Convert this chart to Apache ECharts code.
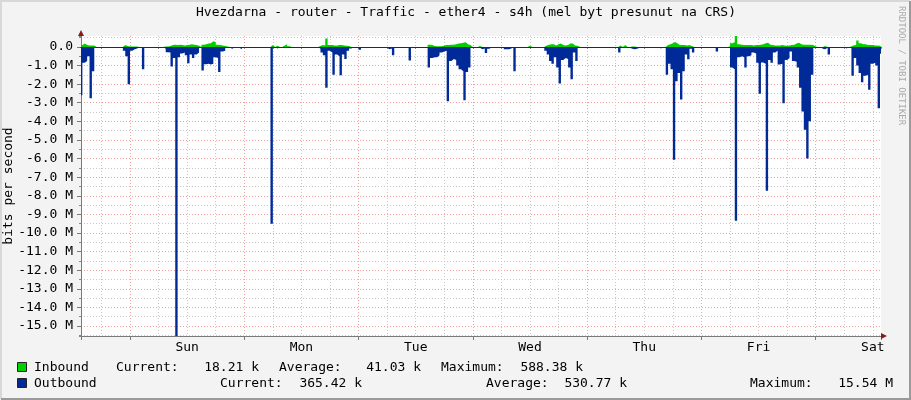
<!DOCTYPE html>
<html><head><meta charset="utf-8">
<script src="https://cdn.jsdelivr.net/npm/echarts@6/dist/echarts.min.js"></script>
<style>html,body{margin:0;padding:0;background:#F3F3F3}#c{width:911px;height:400px}</style>
</head><body><div id="c"></div>
<script>
// ---------- texts ----------
const titleText = 'Hvezdarna - router - Traffic - ether4 - s4h (mel byt presunut na CRS)';
const yAxisTitle = 'bits per second';
const dayLabels = ['Sun', 'Mon', 'Tue', 'Wed', 'Thu', 'Fri', 'Sat'];
const seriesNames = ['Inbound', 'Outbound'];
const statLabels = ['Current:', 'Average:', 'Maximum:'];
const inboundStats = ['18.21 k', '41.03 k', '588.38 k'];
const outboundStats = ['365.42 k', '530.77 k', '15.54 M'];
const watermark = 'RRDTOOL / TOBI OETIKER';

// ---------- time frame (hours after Saturday 00:00) ----------
const viewStartHour = 13.71;
const viewSpanHours = 168;
const slotStartHour = 13.5;   // first 30-min RRD slot
const slotHours = 0.5;

// ---------- values, Mbit/s (outbound drawn negative) ----------
const inbound = [
0.1,0.18,0.1,0.08,0.08,0.08,0,0,0,0,
0,0,0,0,0,0,0,0,0.1,0.05,
0.03,0.03,0.03,0.03,0,0,0,0,0,0,
0,0,0,0,0,0.03,0.03,0.05,0.1,0.12,
0.1,0.12,0.1,0.08,0.1,0.12,0.14,0.12,0.1,0.06,
0,0.12,0.15,0.18,0.2,0.3,0.25,0.12,0.1,0.08,
0.05,0.03,0,0,0,0,0,0,0,0,
0,0,0,0,0,0,0,0,0,0,
0.1,0,0.06,0,0,0.08,0.15,0.04,0,0,
0,0,0,0,0,0,0,0,0,0,
0.05,0.1,0.08,0.45,0.1,0.1,0.08,0.08,0.1,0.1,
0.08,0.06,0.05,0,0,0,0,0,0,0,
0,0,0,0,0,0,0,0,0,0,
0,0,0,0,0,0,0,0,0,0,
0,0,0,0,0,0,0.12,0.1,0.05,0.04,
0.04,0.04,0.08,0.1,0.1,0.12,0.12,0.14,0.18,0.2,
0.22,0.25,0.15,0.1,0,0,0,0.05,0,0,
0,0,0,0,0,0,0,0,0,0,
0,0,0,0,0,0,0,0,0.06,0,
0,0,0,0,0,0.08,0.12,0.15,0.14,0.08,
0.15,0.18,0.1,0.08,0.1,0.18,0.18,0.08,0.06,0,
0,0,0,0,0,0,0,0,0,0,
0,0,0,0,0,0,0.08,0,0.1,0,
0,0.03,0.03,0,0,0,0,0,0,0,
0,0,0,0,0,0,0.1,0.15,0.2,0.27,
0.18,0.1,0.1,0.1,0.08,0.1,0.05,0,0,0,
0,0,0,0,0,0,0,0,0,0,
0,0,0.03,0.2,0.25,0.588,0.15,0.12,0.1,0.1,
0.1,0.1,0.08,0.1,0.1,0.12,0.15,0.2,0.22,0.12,
0.1,0.08,0.08,0.08,0.1,0.08,0.06,0.08,0.1,0.12,
0.18,0.22,0.15,0.12,0.12,0.12,0.12,0.1,0.02,0,
0,0,0.05,0,0,0,0,0,0,0,
0,0,0,0.03,0.09,0.1,0.34,0.2,0.14,0.14,
0.1,0.1,0.1,0.08,0.08,0.06,0.018
];
const outbound = [
-2.6,-0.85,-0.75,-0.5,-2.76,-1.3,0,0,0,0,
0,0,0,0,0,0,0,0,-0.2,-0.5,
-2.0,-0.2,-0.12,-0.08,0,0,-1.2,0,0,0,
0,0,0,0,0,-0.1,-0.28,-0.3,-1.05,-0.6,
-15.54,-0.55,-0.35,-0.3,-0.45,-0.88,-0.4,-0.6,-0.4,-0.3,
0,-1.26,-0.93,-0.9,-0.95,-0.9,-0.55,-0.6,-1.35,-0.25,
-0.2,-0.05,-0.05,-0.1,0,0,-0.05,-0.12,0,0,
0,0,0,0,0,0,0,0,0,0,
-9.5,0,-0.08,0,0,0,0,0,-0.05,0,
0,0,0,0,0,0,0,0,0,0,
-0.1,-0.3,-0.45,-2.2,-0.2,-0.3,-1.5,-0.4,-0.5,-1.52,
-0.4,-0.65,-0.2,-0.08,0,0,0,-0.15,0,0,
0,0,0,0,0,0,0,0,-0.05,-0.12,
-0.08,-0.45,0,0,0,0,0,0,-0.73,0,
0,0,0,0,0,0,-1.1,-0.6,-0.55,-0.55,
-0.45,-0.3,-0.25,-0.2,-2.92,-0.75,-0.65,-0.7,-1.0,-1.2,
-1.3,-2.87,-1.35,-1.1,0,0,0,-0.05,-0.12,-0.08,
-0.33,-0.1,0,0,0,0,0,0,-0.12,-0.12,
-0.1,0,-1.3,0,0,0,0,0,0,0,
0,0,0,0,0,-0.2,-0.4,-0.75,-0.9,-0.55,
-1.1,-1.96,-0.7,-0.6,-0.65,-1.1,-1.74,-0.3,-0.75,0,
0,0,0,0,0,0,0,0,0,0,
0,0,0,0,0,0,-0.3,0,-0.05,0,
-0.05,-0.1,-0.12,-0.1,-0.05,0,0,0,0,0,
0,0,0,-0.08,0,-0.05,-1.5,-0.9,-1.2,-6.07,
-1.85,-1.4,-2.83,-1.3,-0.4,-0.66,-0.1,-0.3,0,0,
0,0,0,0,0,0,0,-0.25,0,0,
0,0,-0.05,-1.1,-1.2,-9.35,-0.55,-0.5,-0.55,-1.1,
-0.5,-0.45,-0.3,-0.35,-0.85,-2.51,-0.84,-0.9,-7.73,-0.7,
-0.85,-0.3,-0.2,-0.95,-0.9,-3.03,-0.7,-0.6,-0.25,-0.75,
-0.8,-1.1,-2.2,-3.47,-4.45,-6.0,-4.0,-1.5,0,0,
0,-0.1,-0.12,-0.05,-0.4,0,0,0,0,0,
0,-0.08,0,-0.05,-1.55,-0.6,-1.0,-1.4,-1.9,-1.55,
-1.5,-2.3,-0.9,-0.85,-1.0,-3.3,-0.365
];
const yMin = -15.54;   // = -(outbound maximum)
const yMax = 0.58838;  // = inbound maximum

// ---------- helpers ----------
const colIn = '#00CF00', colOut = '#002A97';
const FONT = '"DejaVu Sans Mono", monospace';
function toSeries(vals) {
  const pts = vals.map((v, i) => [(slotStartHour + i * slotHours) / 24, v]);
  const n = vals.length;
  pts.push([(slotStartHour + n * slotHours) / 24, vals[n - 1]]); // close last step
  return pts;
}
const dayMin = viewStartHour / 24, dayMax = (viewStartHour + viewSpanHours) / 24;
const dotted = [1, 2];

const chart = echarts.init(document.getElementById('c'), null, {renderer: 'canvas'});

const legendRows = [
  {name: seriesNames[0], color: colIn, stats: inboundStats, y: 368, lx: [116, 279, 441], vx: [259, 421, 583]},
  {name: seriesNames[1], color: colOut, stats: outboundStats, y: 384, lx: [220, 486, 750], vx: [362, 627, 893]}
];
const graphics = [
  {type: 'text', x: 466, y: 13, style: {text: titleText, font: '13px ' + FONT, fill: '#000', align: 'center', verticalAlign: 'middle'}},
  {type: 'text', x: 901, y: 6, rotation: -Math.PI / 2, style: {text: watermark, font: '9px ' + FONT, fill: '#aaaaaa', align: 'left', verticalAlign: 'middle'}},
  // frame
  {type: 'polyline', shape: {points: [[1, 399], [1, 1], [910, 1]]}, style: {stroke: '#D8D8D8', lineWidth: 2, fill: null}},
  {type: 'polyline', shape: {points: [[1, 399], [910, 399], [910, 1]]}, style: {stroke: '#9A9A9A', lineWidth: 2, fill: null}}
];
legendRows.forEach(r => {
  graphics.push({type: 'rect', shape: {x: 17.5, y: r.y - 5.5, width: 9, height: 9}, style: {fill: r.color, stroke: '#222', lineWidth: 1}});
  graphics.push({type: 'text', x: 34, y: r.y, style: {text: r.name, font: '13px ' + FONT, fill: '#000', verticalAlign: 'middle'}});
  r.stats.forEach((s, k) => {
    graphics.push({type: 'text', x: r.lx[k], y: r.y, style: {text: statLabels[k], font: '13px ' + FONT, fill: '#000', verticalAlign: 'middle'}});
    graphics.push({type: 'text', x: r.vx[k], y: r.y, style: {text: s, font: '13px ' + FONT, fill: '#000', align: 'right', verticalAlign: 'middle'}});
  });
});

const option = {
  animation: false,
  backgroundColor: '#F3F3F3',
  textStyle: {fontFamily: FONT},
  grid: {left: 81, right: 30, top: 36, bottom: 64, show: true, backgroundColor: '#FFFFFF', borderWidth: 0,
         containLabel: false, outerBoundsMode: 'none'},
  xAxis: [
    { // minor grid: every 6 hours
      type: 'value', position: 'bottom', min: viewStartHour / 6, max: (viewStartHour + viewSpanHours) / 6, splitNumber: 28,
      axisLine: {show: false}, axisLabel: {show: false},
      axisTick: {show: true, length: 2, lineStyle: {color: '#888'}},
      splitLine: {show: true, showMinLine: false, showMaxLine: false, lineStyle: {color: '#C8C8C8', type: dotted, width: 1}}
    },
    { // major grid: midnight; carries the data
      type: 'value', position: 'bottom', min: dayMin, max: dayMax, splitNumber: 7,
      axisLine: {show: true, onZero: false, lineStyle: {color: '#7A7A7A', width: 1}},
      axisLabel: {show: false},
      axisTick: {show: true, length: 4, lineStyle: {color: '#7A7A7A'}},
      splitLine: {show: true, showMinLine: false, showMaxLine: false, lineStyle: {color: '#F2A0A0', type: dotted, width: 1}}
    },
    { // day labels at noon
      type: 'value', position: 'bottom', min: dayMin - 0.5, max: dayMax - 0.5, splitNumber: 7,
      axisLine: {show: true, onZero: false, symbol: ['none', 'triangle'], symbolSize: [6, 6], symbolOffset: [0, 3], lineStyle: {color: '#8B1A1A', width: 0}},
      axisTick: {show: false}, splitLine: {show: false},
      axisLabel: {show: true, showMinLabel: false, showMaxLabel: false, margin: 5, color: '#000', fontSize: 13, fontFamily: FONT,
        formatter: v => dayLabels[Math.round(v) - 1] || ''}
    },
    { // zero line drawn above the areas
      type: 'value', position: 'bottom', min: dayMin, max: dayMax, z: 10,
      axisLine: {show: true, onZero: true, lineStyle: {color: colOut, width: 1}},
      axisTick: {show: false}, axisLabel: {show: false}, splitLine: {show: false}
    }
  ],
  yAxis: [
    { // minor grid 0.5 M (axis in half-megabit units)
      type: 'value', position: 'left', min: yMin * 2, max: yMax * 2, splitNumber: 32,
      axisLine: {show: true, onZero: false, symbol: ['none', 'triangle'], symbolSize: [6, 6], symbolOffset: [0, 3], lineStyle: {color: '#8B1A1A', width: 0}},
      axisLabel: {show: false},
      axisTick: {show: true, length: 2, lineStyle: {color: '#888'}},
      splitLine: {show: true, showMinLine: false, showMaxLine: false, lineStyle: {color: '#C8C8C8', type: dotted, width: 1}}
    },
    { // major grid 1 M; carries the data
      type: 'value', position: 'left', min: yMin, max: yMax, splitNumber: 16,
      name: yAxisTitle, nameLocation: 'middle', nameGap: 66, nameRotate: 90, nameMoveOverlap: false,
      nameTextStyle: {color: '#000', fontSize: 13, fontFamily: FONT},
      axisLine: {show: true, onZero: false, lineStyle: {color: '#7A7A7A', width: 1}},
      axisTick: {show: true, length: 4, lineStyle: {color: '#7A7A7A'}},
      axisLabel: {show: true, showMinLabel: false, showMaxLabel: false, margin: 8, color: '#000', fontSize: 13, fontFamily: FONT,
        formatter: v => (Math.abs(v) < 1e-9 ? '0.0' : v.toFixed(1) + ' M')},
      splitLine: {show: true, showMinLine: false, showMaxLine: false, lineStyle: {color: '#F2A0A0', type: dotted, width: 1}}
    }
  ],
  series: [
    {name: seriesNames[0], type: 'line', xAxisIndex: 1, yAxisIndex: 1, step: 'end', symbol: 'none', z: 2,
     lineStyle: {width: 0}, areaStyle: {color: colIn, opacity: 1}, data: toSeries(inbound)},
    {name: seriesNames[1], type: 'line', xAxisIndex: 1, yAxisIndex: 1, step: 'end', symbol: 'none', z: 3,
     lineStyle: {width: 0}, areaStyle: {color: colOut, opacity: 1}, data: toSeries(outbound)}
  ],
  graphic: graphics
};
chart.setOption(option);
</script>
</body></html>
